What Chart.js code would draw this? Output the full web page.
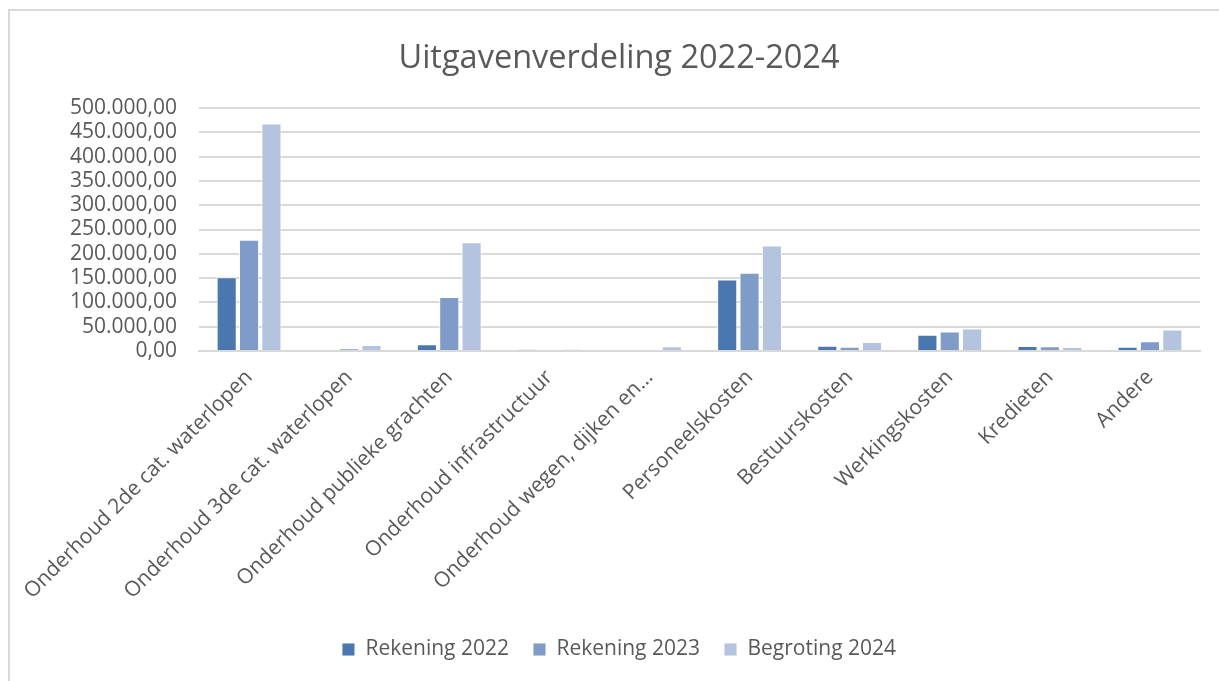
<!DOCTYPE html>
<html>
<head>
<meta charset="utf-8">
<script src="https://cdn.jsdelivr.net/npm/chart.js@4.4.1/dist/chart.umd.min.js"></script>
<style>
  html, body { margin: 0; padding: 0; background: #ffffff; overflow: hidden; }
  #frame { position: absolute; left: 8px; top: 9px; width: 1400px; height: 900px;
           border-left: 2px solid #d9d9d9; border-top: 2px solid #d9d9d9; }
  #wrap { position: absolute; left: 0; top: 0; width: 1219px; height: 681px; }
</style>
</head>
<body>
<div id="frame"></div>
<div id="wrap"><canvas id="c" width="1219" height="681"></canvas></div>
<script>
const categories = [
  "Onderhoud 2de cat. waterlopen",
  "Onderhoud 3de cat. waterlopen",
  "Onderhoud publieke grachten",
  "Onderhoud infrastructuur",
  "Onderhoud wegen, dijken en…",
  "Personeelskosten",
  "Bestuurskosten",
  "Werkingskosten",
  "Kredieten",
  "Andere"
];
const seriesNames = ["Rekening 2022", "Rekening 2023", "Begroting 2024"];
const rekening2022 = [152000, 0, 14000, 3000, 0, 147000, 11000, 33500, 10300, 9000];
const rekening2023 = [229000, 5500, 111000, 0, 0, 161000, 9000, 40000, 10000, 20000];
const begroting2024 = [468000, 12500, 224000, 3500, 10000, 217000, 18500, 46500, 8300, 44000];
const yTicks = [0, 50000, 100000, 150000, 200000, 250000, 300000, 350000, 400000, 450000, 500000];
const colors = ["#4a77b0", "#7f9cc8", "#b4c4df"];

function fmtNL(v) {
  const s = Math.round(v).toString().replace(/\B(?=(\d{3})+(?!\d))/g, ".");
  return s + ",00";
}

const TXT = "#595959";
const FONT = "'Open Sans', 'Noto Sans', sans-serif";
const PAD_LEFT = 38;

const chart = new Chart(document.getElementById("c"), {
  type: "bar",
  data: {
    labels: categories,
    datasets: [rekening2022, rekening2023, begroting2024].map((d, i) => ({
      label: seriesNames[i],
      data: d,
      backgroundColor: colors[i],
      borderColor: "rgba(255,255,255,0.9)",
      borderWidth: 1,
      categoryPercentage: 0.67,
      barPercentage: 0.9
    }))
  },
  options: {
    responsive: false,
    animation: false,
    layout: { padding: { left: PAD_LEFT, right: 19, top: 0, bottom: 11 } },
    plugins: {
      title: {
        display: true,
        text: "Uitgavenverdeling 2022-2024",
        color: TXT,
        font: { family: FONT, size: 32.5, weight: "normal" },
        padding: { top: 39, bottom: 30 }
      },
      legend: {
        position: "bottom",
        labels: {
          color: TXT,
          font: { family: FONT, size: 21 },
          boxWidth: 13,
          boxHeight: 13,
          padding: 24
        }
      },
      tooltip: { enabled: false }
    },
    scales: {
      x: {
        grid: { display: false, drawTicks: false },
        border: { display: true, color: "#d9d9d9", width: 2 },
        ticks: {
          color: TXT,
          font: { family: FONT, size: 21 },
          autoSkip: false,
          minRotation: 45,
          maxRotation: 45,
          padding: 14
        },
        afterFit: (s) => { s.height = 264; }
      },
      y: {
        min: 0,
        max: 500000,
        afterBuildTicks: (s) => { s.ticks = yTicks.map(v => ({ value: v })); },
        grid: { color: "#d9d9d9", lineWidth: 2, drawTicks: false },
        border: { display: false },
        ticks: {
          color: TXT,
          font: { family: FONT, size: 21 },
          autoSkip: false,
          padding: 22,
          callback: (v) => fmtNL(v)
        },
        afterFit: (s) => { s.width = 199 - PAD_LEFT; }
      }
    }
  }
});
</script>
</body>
</html>
